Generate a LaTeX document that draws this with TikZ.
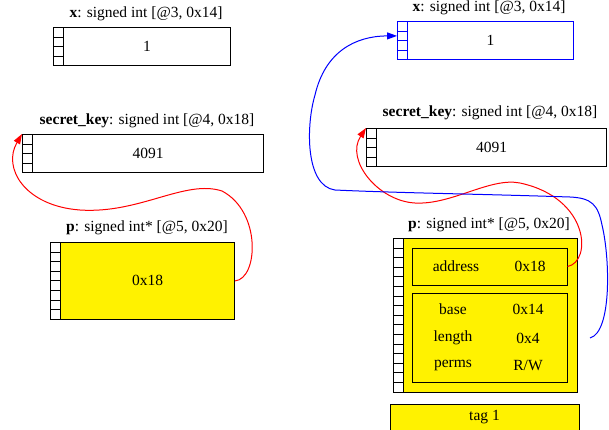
\documentclass[tikz,border=0pt]{standalone}
\usepackage{fontspec}
\setmainfont{Liberation Serif}
\usetikzlibrary{arrows.meta}
\tikzset{
    every node/.style={font=\fontsize{15.5}{18}\selectfont, inner sep=0pt}
}
\tikzset{
    val/.style={draw, rectangle, line width=1pt, minimum height=38.4pt, anchor=north west},
    cell/.style={draw, rectangle, line width=1pt, fill=white, minimum width=10pt,
    	minimum height=9.6pt, anchor=north west},
    field/.style={draw, rectangle, line width=1pt, minimum width=155pt}
}
\tikzset{
	ptr/.style={line width=1pt, -{Triangle[length=10pt,width=7pt]}}
}

\begin{document}
\begin{tikzpicture}[x=1pt,y=-1pt]
	\useasboundingbox (0,0) rectangle (609,429);

	% left column
	\node (xLl) at (146,14) {\textbf{x}: signed int [@3, 0x14]};
	\node (xL) [val, minimum width=167pt] at (63,27) {1};
	\foreach \i in {1,...,4}
		\node (xLc\i) [cell] at (53,{27+9.6*(\i-1)}) {};

	\node (skLl) at (147,121) {\textbf{secret\_key}: signed int [@4, 0x18]};
	\node (skL) [val, minimum width=231pt] at (32,134) {4091};
	\foreach \i in {1,...,4}
		\node (skLc\i) [cell] at (22,{134+9.6*(\i-1)}) {};

	\node (pLl) at (147,228) {\textbf{p}: signed int* [@5, 0x20]};
	\node (pL) [val, fill=yellow, minimum width=174pt, minimum height=76.8pt] at (60,242) {0x18};
	\foreach \i in {1,...,8}
		\node (pLc\i) [cell] at (50,{242+9.6*(\i-1)}) {};

	% right column
	\node (xRl) at (489,8) {\textbf{x}: signed int [@3, 0x14]};
	\node (xR) [val, draw=blue, minimum width=166pt] at (407,21) {1};
	\foreach \i in {1,...,4}
		\node (xRc\i) [cell, draw=blue] at (397,{21+9.6*(\i-1)}) {};

	\node (skRl) at (490,113) {\textbf{secret\_key}: signed int [@4, 0x18]};
	\node (skR) [val, minimum width=230pt] at (376,128) {4091};
	\foreach \i in {1,...,4}
		\node (skRc\i) [cell] at (366,{128+9.6*(\i-1)}) {};

	\node (pRl) at (489,225) {\textbf{p}: signed int* [@5, 0x20]};
	\node (pR) [val, fill=yellow, minimum width=174pt, minimum height=153.6pt] at (403,238) {};
	\foreach \i in {1,...,16}
		\node (pRc\i) [cell] at (393,{238+9.6*(\i-1)}) {};

	\node (addr) [field, minimum height=37pt] at (489.5,266.5) {};
	\node (addrn) at (456,266) {address};
	\node (addrv) at (530,266) {0x18};

	\node (meta) [field, minimum height=89pt] at (489.5,337.5) {};
	\node (basen) at (453,309) {base};
	\node (basev) at (528,309) {0x14};
	\node (lenn) at (453,338) {length};
	\node (lenv) at (528,338) {0x4};
	\node (permn) at (453,365) {perms};
	\node (permv) at (528,365) {R/W};

	\node (tag) [draw, line width=1pt, fill=yellow, minimum width=189pt, minimum height=26pt]
		at (484.5,417) {tag 1};

	\coordinate (lenport) at (590,338);

	% pointers
	\draw [ptr, red] (pL.east) .. controls (258,279) and (262,212) .. (222,191)
		.. controls (185,179) and (140,214) .. (80,210)
		.. controls (25,206) and (2,168) .. (skLc1.north west);
	\draw [ptr, red] (addr.east) .. controls (592,262) and (590,198) .. (520,183)
		.. controls (490,177) and (452,205) .. (415,203)
		.. controls (378,201) and (345,160) .. (skRc1.north west);
	\draw [ptr, blue] (lenport) .. controls (612,332) and (610,258) .. (602,225)
		.. controls (598,205) and (592,198) .. (570,197)
		.. controls (480,194) and (400,193) .. (335,190)
		.. controls (305,186) and (306,125) .. (315,95)
		.. controls (325,52) and (355,36) .. (xRc2.west);
\end{tikzpicture}
\end{document}
